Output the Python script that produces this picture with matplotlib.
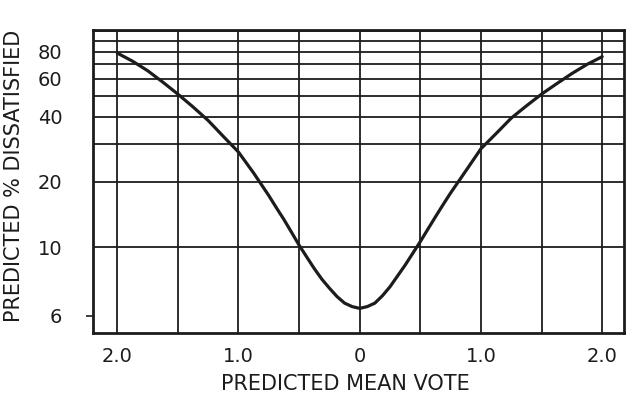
import matplotlib
matplotlib.use("Agg")
import matplotlib.pyplot as plt
import numpy as np

# Data
pmv = [-2.0, -1.875, -1.75, -1.625, -1.5, -1.375, -1.25, -1.125, -1.0,
       -0.875, -0.75, -0.6875, -0.625, -0.5625, -0.5, -0.4375, -0.375,
       -0.3125, -0.25, -0.1875, -0.125, -0.0625, 0.0,
       0.0625, 0.125, 0.1875, 0.25, 0.3125, 0.375, 0.4375, 0.5,
       0.5625, 0.625, 0.6875, 0.75, 0.875, 1.0,
       1.125, 1.25, 1.375, 1.5, 1.625, 1.75, 1.875, 2.0]
ppd = [79, 72.5, 65.5, 58, 51, 44.5, 38.5, 32.5, 27.5,
       22, 17.3, 15.2, 13.4, 11.7, 10.2, 9.0, 7.95,
       7.1, 6.45, 5.9, 5.5, 5.3, 5.2,
       5.3, 5.5, 5.95, 6.55, 7.35, 8.25, 9.35, 10.6,
       12.1, 13.8, 15.7, 17.8, 22.5, 28.5,
       33.5, 39.5, 45, 51, 57, 63.5, 70, 76]

x_ticks = [-2.0, -1.0, 0.0, 1.0, 2.0]
x_tick_labels = ["2.0", "1.0", "0", "1.0", "2.0"]
x_grid = [-2.0, -1.5, -1.0, -0.5, 0.0, 0.5, 1.0, 1.5, 2.0]

y_ticks = [4.8, 10, 20, 40, 60, 80]
y_tick_labels = ["6", "10", "20", "40", "60", "80"]
y_grid = [10, 20, 30, 40, 50, 60, 70, 80, 90, 100]

fig = plt.figure(figsize=(6.26, 3.97), dpi=100)
ax = fig.add_axes([93 / 626, 1 - 333 / 397, 531 / 626, 303 / 397])

ink = "#1c1c1c"
ax.set_yscale("log")
ax.set_xlim(-2.2, 2.18)
ax.set_ylim(4.0, 101)

for g in x_grid:
    ax.axvline(g, color=ink, lw=1.3, zorder=1)
for g in y_grid:
    ax.axhline(g, color=ink, lw=1.3, zorder=1)

ax.plot(pmv, ppd, color=ink, lw=2.3, solid_capstyle="round",
        solid_joinstyle="round", zorder=3)

ax.set_xticks(x_ticks)
ax.set_xticklabels(x_tick_labels)
ax.set_yticks(y_ticks)
ax.set_yticklabels(y_tick_labels)
ax.yaxis.set_minor_locator(matplotlib.ticker.NullLocator())
ax.xaxis.set_minor_locator(matplotlib.ticker.NullLocator())

ax.tick_params(axis="x", length=0, pad=10, labelsize=14, colors=ink)
ax.tick_params(axis="y", length=0, pad=22, labelsize=14, colors=ink)
t0 = ax.yaxis.get_major_ticks()[0]
t0.tick1line.set_markersize(5)
t0.tick1line.set_markeredgewidth(1.2)

for s in ax.spines.values():
    s.set_linewidth(2.0)
    s.set_color(ink)

ax.set_xlabel("PREDICTED MEAN VOTE", fontsize=15, color=ink)
ax.xaxis.set_label_coords((345 - 93) / 531, (333 - 374) / 303)
ax.set_ylabel("PREDICTED % DISSATISFIED", fontsize=15, color=ink)
ax.yaxis.set_label_coords((24 - 93) / 531, (333 - 176) / 303)

fig.savefig("out.png", dpi=100)
